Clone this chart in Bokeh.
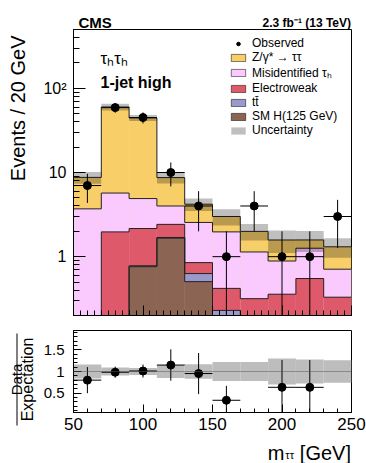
import numpy as np
from bokeh.plotting import figure
from bokeh.models import Range1d, FixedTicker, Legend, LegendItem, Label, Span, BoxAnnotation
from bokeh.layouts import column, row
from bokeh.embed import file_html
from bokeh.resources import INLINE

# ---------------- data ----------------
bin_edges = [50, 70, 90, 110, 130, 150, 170, 190, 210, 230, 250]
observed = [7, 59, 45, 10, 4, 1, 4, 1, 1, 3]
sm_higgs = [0, 0, 0.76, 1.66, 0.505, 0, 0, 0, 0, 0]
ttbar = [0, 0, 0.02, 0.03, 0.125, 0.23, 0, 0, 0, 0]
electroweak = [0, 1.97, 1.38, 0.73, 0.22, 0.19, 0.317, 0.358, 0.55, 0.33]
misid_tau = [3.7, 3.73, 2.74, 1.58, 1.7, 1.55, 0.82, 0.53, 0.71, 0.38]
ztautau = [5.05, 54.3, 39.6, 4.7, 1.65, 1.03, 0.86, 0.69, 0.32, 0.60]
rel_unc = [0.16, 0.09, 0.08, 0.15, 0.17, 0.22, 0.22, 0.30, 0.28, 0.26]

labels = ["SM H(125 GeV)", "tt\u0304", "Electroweak", "Misidentified \u03c4\u2095", "Z/\u03b3* \u2192 \u03c4\u03c4"]
colors = ["#8B6453", "#9B98CC", "#DE5A6A", "#FACAFF", "#F8CE68"]
series = [sm_higgs, ttbar, electroweak, misid_tau, ztautau]

FONT = "Liberation Sans"
YMIN, YMAX = 0.2, 500
RMIN, RMAX = 0.05, 1.95
TOTAL_W = 366
SIDE = 40

edges = np.array(bin_edges, float)
left, right = edges[:-1], edges[1:]
centers = 0.5 * (left + right)
obs = np.array(observed, float)
cum = np.cumsum([np.array(s, float) for s in series], axis=0)
total = cum[-1]
unc = np.array(rel_unc)


def style_axes(fig, xmaj, xmin_, ymaj, ymin_):
    for ax in fig.xaxis:
        ax.major_tick_in, ax.major_tick_out = xmaj, 0
        ax.minor_tick_in, ax.minor_tick_out = xmin_, 0
    for ax in fig.yaxis:
        ax.major_tick_in, ax.major_tick_out = ymaj, 0
        ax.minor_tick_in, ax.minor_tick_out = ymin_, 0
    for ax in fig.axis:
        ax.axis_line_color = "black"
        ax.major_tick_line_color = "black"
        ax.minor_tick_line_color = "black"
        ax.major_label_text_font = FONT
        ax.major_label_text_color = "black"
    fig.xgrid.visible = False
    fig.ygrid.visible = False
    fig.outline_line_color = "black"
    fig.outline_line_alpha = 1


def text_fig(w, h):
    f = figure(title=None, frame_width=w, frame_height=h, x_range=Range1d(0, w), y_range=Range1d(0, h),
               x_axis_type=None, y_axis_type=None, output_backend="svg", toolbar_location=None,
               min_border=0, outline_line_color=None, border_fill_color="white")
    f.xgrid.visible = False
    f.ygrid.visible = False
    return f


def lab(fig, x, y, text, size, bold=False, **kw):
    fig.add_layout(Label(x=x, y=y, x_units="screen", y_units="screen", text=text, text_font=FONT,
                         text_font_size=size, text_font_style="bold" if bold else "normal",
                         text_color="black", **kw))


# ---------------- header (CMS / lumi) ----------------
header = text_fig(TOTAL_W, 29)
lab(header, 78, 7, "CMS", "15px", True, text_baseline="alphabetic")
lab(header, 350.5, 7, "2.3 fb\u207b\u00b9 (13 TeV)", "12px", True, text_align="right", text_baseline="alphabetic")

# ---------------- main panel ----------------
p = figure(title=None, width=TOTAL_W - SIDE, height=293, x_range=Range1d(50, 250), y_range=Range1d(YMIN, YMAX),
           y_axis_type="log", output_backend="svg", toolbar_location=None,
           min_border_left=33, min_border_right=15, min_border_top=0, min_border_bottom=7)

for i in reversed(range(len(series))):
    top = cum[i]
    m = top > 0
    p.quad(left=left[m], right=right[m], bottom=YMIN, top=top[m],
           fill_color=colors[i], line_color=None)
for i in range(len(series)):
    y = np.maximum(cum[i], 1e-3)
    p.step(x=edges, y=np.append(y, y[-1]), mode="after", line_color="#222222", line_width=1)

p.quad(left=left, right=right, bottom=total * (1 - unc), top=total * (1 + unc),
       fill_color="black", fill_alpha=0.25, line_color=None)

err = np.sqrt(obs)
p.segment(x0=centers, x1=centers, y0=np.maximum(obs - err, 1e-3), y1=obs + err, line_color="black", line_width=1)
p.segment(x0=left, x1=right, y0=obs, y1=obs, line_color="black", line_width=1)
obs_r = p.scatter(x=centers, y=obs, size=8, color="black")

xt = [50, 100, 150, 200, 250]
p.xaxis.ticker = FixedTicker(ticks=xt, minor_ticks=list(range(50, 251, 5)))
p.xaxis.major_label_overrides = {t: "" for t in xt}
p.xaxis.major_label_standoff = 0
p.yaxis.ticker = FixedTicker(ticks=[1, 10, 100],
                             minor_ticks=[k * 10.0 ** d for d in range(-1, 3) for k in range(2, 10)
                                          if YMIN <= k * 10.0 ** d <= YMAX])
p.yaxis.major_label_overrides = {1: "1", 10: "10", 100: "10\u00b2"}
p.yaxis.major_label_text_font_size = "16px"
p.yaxis.major_label_standoff = 7
style_axes(p, 10, 5, 12, 6)

nan = [np.nan]
items = [LegendItem(label="Observed", renderers=[obs_r])]
for i in reversed(range(len(series))):
    proxy = p.quad(left=nan, right=nan, top=nan, bottom=nan, fill_color=colors[i],
                   line_color="black", line_alpha=0.5)
    items.append(LegendItem(label=labels[i], renderers=[proxy]))
unc_proxy = p.quad(left=nan, right=nan, top=nan, bottom=nan, fill_color="black", fill_alpha=0.25, line_color=None)
items.append(LegendItem(label="Uncertainty", renderers=[unc_proxy]))
legend = Legend(items=items, location=(156, 178), background_fill_alpha=0, border_line_color=None,
                label_text_font=FONT, label_text_font_size="12px", label_text_color="black",
                glyph_width=18, glyph_height=9, label_height=11, spacing=0, padding=0, margin=0,
                label_standoff=5)
p.add_layout(legend)

lab(p, 27, 257, "\u03c4\u2095\u03c4\u2095", "17px", False, text_baseline="alphabetic")
lab(p, 27, 233, "1-jet high", "16px", True, text_baseline="alphabetic")

side_main = text_fig(SIDE, 293)
lab(side_main, 17, 287, "Events / 20 GeV", "20px", False, angle=np.pi / 2, text_align="right",
    text_baseline="middle")

# ---------------- ratio panel ----------------
r = figure(title=None, width=TOTAL_W - SIDE, height=114, x_range=p.x_range, y_range=Range1d(RMIN, RMAX),
           output_backend="svg", toolbar_location=None,
           min_border_left=33, min_border_right=15, min_border_top=8, min_border_bottom=24)
r.quad(left=left, right=right, bottom=1 - unc, top=1 + unc, fill_color="#BDBDBD", line_color=None)
r.add_layout(Span(location=1, dimension="width", line_color="#555555", line_dash="1 1", line_width=1))

ratio = obs / total
rerr = np.sqrt(obs) / total
m = (ratio >= RMIN) & (ratio <= RMAX)
r.segment(x0=centers[m], x1=centers[m], y0=np.maximum(ratio[m] - rerr[m], 0), y1=ratio[m] + rerr[m],
          line_color="black", line_width=1)
r.segment(x0=left[m], x1=right[m], y0=ratio[m], y1=ratio[m], line_color="black", line_width=1)
r.scatter(x=centers[m], y=ratio[m], size=8, color="black")

r.xaxis.ticker = FixedTicker(ticks=xt, minor_ticks=list(range(50, 251, 10)))
r.xaxis.major_label_text_font_size = "17px"
r.xaxis.major_label_standoff = 5
r.yaxis.ticker = FixedTicker(ticks=[0.5, 1, 1.5], minor_ticks=[round(0.1 * k, 1) for k in range(1, 20)])
r.yaxis.major_label_overrides = {0.5: "0.5", 1: "1", 1.5: "1.5"}
r.yaxis.major_label_text_font_size = "15px"
r.yaxis.major_label_standoff = 9
style_axes(r, 8, 4, 8, 4)

side_ratio = text_fig(SIDE, 114)
lab(side_ratio, 15.5, 65, "Data", "15px", False, angle=np.pi / 2, text_align="center", text_baseline="alphabetic")
lab(side_ratio, 18, 65, "Expectation", "16px", False, angle=np.pi / 2, text_align="center", text_baseline="top")
side_ratio.add_layout(BoxAnnotation(left=16, right=17, bottom=19, top=111, left_units="screen",
                                    right_units="screen", bottom_units="screen", top_units="screen",
                                    fill_color="black", fill_alpha=1, line_color=None))

# ---------------- footer (x title) ----------------
footer = text_fig(TOTAL_W, 27)
lab(footer, 284, 11, "m", "20px", False, text_align="right", text_baseline="alphabetic")
lab(footer, 293.5, 9, "\u03c4\u03c4", "11px", False, text_align="right", text_baseline="alphabetic")
lab(footer, 350.5, 11, "[GeV]", "20px", False, text_align="right", text_baseline="alphabetic")

layout = column(header, row(side_main, p), row(side_ratio, r), footer)
open("out.html", "w").write(file_html(layout, INLINE))
